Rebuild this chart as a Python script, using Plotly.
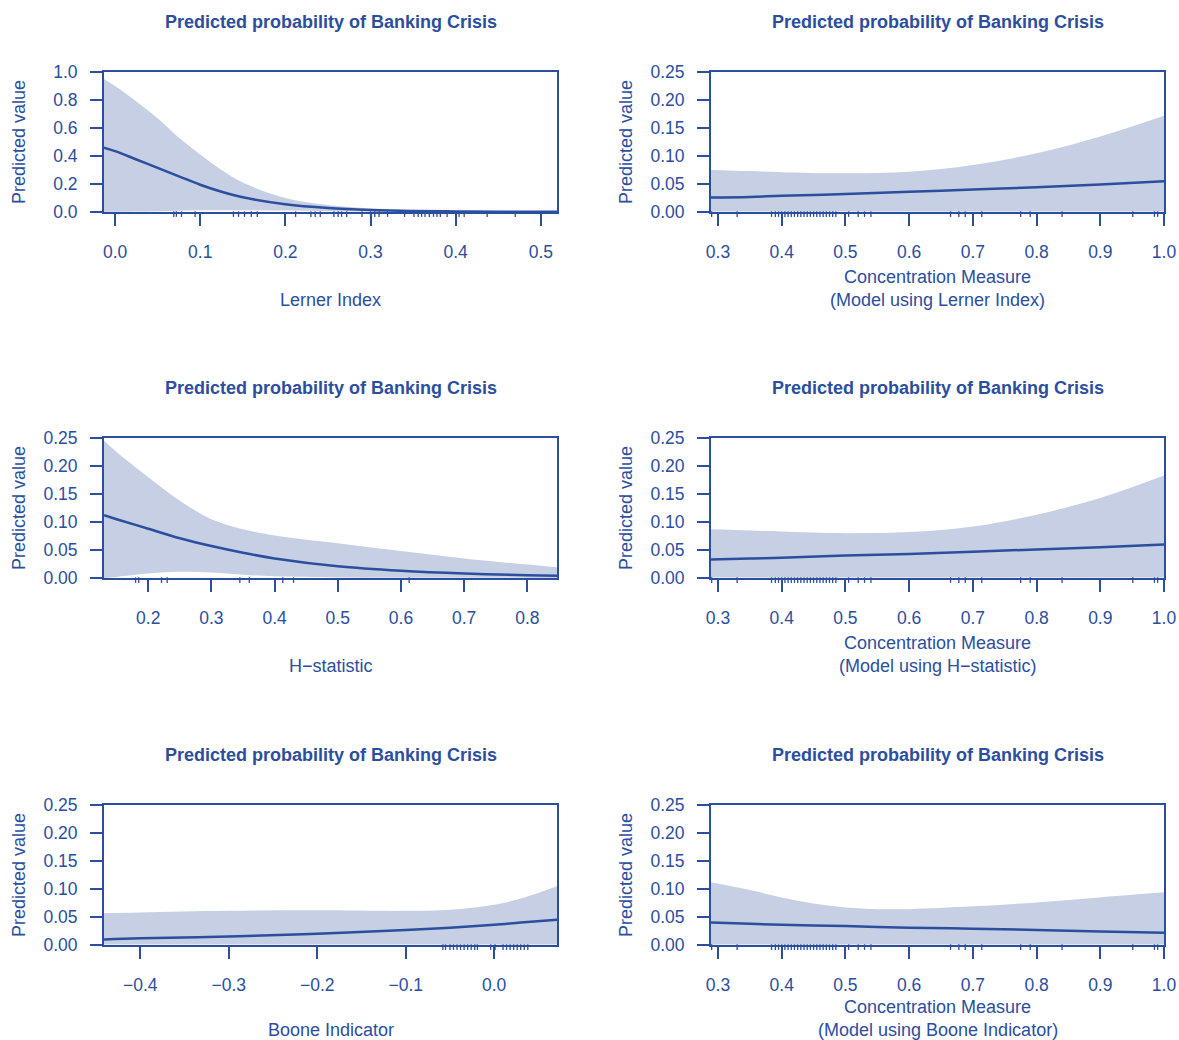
import plotly.graph_objects as go

# ---------------- data ----------------
# Panel 1: Lerner Index
lerner_x = [-0.013, 0.0, 0.025, 0.05, 0.075, 0.1, 0.125, 0.15, 0.2, 0.25, 0.3, 0.35, 0.4, 0.45, 0.519]
lerner_fit = [0.46, 0.435, 0.375, 0.315, 0.255, 0.195, 0.145, 0.105, 0.055, 0.028, 0.014, 0.007, 0.004, 0.002, 0.001]
lerner_hi = [0.95, 0.90, 0.79, 0.67, 0.53, 0.41, 0.30, 0.21, 0.10, 0.05, 0.025, 0.012, 0.006, 0.003, 0.001]
lerner_lo = [0.0, 0.001, 0.003, 0.006, 0.009, 0.012, 0.013, 0.013, 0.010, 0.006, 0.003, 0.0015, 0.0008, 0.0004, 0.0001]
lerner_rug = [0.069, 0.072, 0.078, 0.094, 0.139, 0.145, 0.152, 0.16, 0.167, 0.212, 0.23, 0.235, 0.241,
              0.257, 0.262, 0.266, 0.272, 0.29, 0.3, 0.305, 0.31, 0.32, 0.34, 0.351, 0.356, 0.36, 0.364,
              0.369, 0.374, 0.378, 0.382, 0.39, 0.4, 0.404, 0.41, 0.437, 0.47]

# Panel 2: Concentration (Lerner model)
conc_x = [0.289, 0.35, 0.4, 0.5, 0.6, 0.7, 0.8, 0.9, 1.0]
concL_fit = [0.026, 0.027, 0.029, 0.032, 0.036, 0.040, 0.044, 0.049, 0.055]
concL_hi = [0.075, 0.073, 0.071, 0.069, 0.072, 0.084, 0.105, 0.135, 0.172]
concL_lo = [0.001, 0.001, 0.001, 0.001, 0.001, 0.001, 0.001, 0.001, 0.001]

# Panel 3: H-statistic
h_x = [0.13, 0.15, 0.2, 0.25, 0.3, 0.35, 0.4, 0.5, 0.6, 0.7, 0.8, 0.847]
h_fit = [0.112, 0.105, 0.088, 0.071, 0.057, 0.045, 0.035, 0.021, 0.013, 0.008, 0.005, 0.004]
h_hi = [0.245, 0.225, 0.180, 0.138, 0.105, 0.087, 0.076, 0.062, 0.048, 0.035, 0.024, 0.019]
h_lo = [0.0, 0.002, 0.008, 0.011, 0.010, 0.006, 0.003, 0.001, 0.0005, 0.0003, 0.0002, 0.0001]
h_rug = [0.18, 0.185, 0.221, 0.23, 0.345, 0.36, 0.413, 0.43, 0.613]

# Panel 4: Concentration (H-statistic model)
concH_fit = [0.033, 0.035, 0.036, 0.040, 0.043, 0.047, 0.051, 0.055, 0.060]
concH_hi = [0.087, 0.085, 0.083, 0.080, 0.082, 0.092, 0.113, 0.143, 0.183]
concH_lo = [0.001, 0.001, 0.001, 0.001, 0.001, 0.001, 0.001, 0.001, 0.001]

# Panel 5: Boone Indicator
boone_x = [-0.441, -0.4, -0.3, -0.2, -0.1, -0.05, 0.0, 0.03, 0.071]
boone_fit = [0.010, 0.012, 0.015, 0.020, 0.027, 0.031, 0.036, 0.040, 0.045]
boone_hi = [0.057, 0.058, 0.061, 0.062, 0.061, 0.063, 0.072, 0.083, 0.105]
boone_lo = [0.001, 0.001, 0.001, 0.001, 0.001, 0.001, 0.001, 0.001, 0.001]
boone_rug = [-0.058, -0.055, -0.05, -0.046, -0.042, -0.038, -0.034, -0.03, -0.026, -0.022, -0.019,
             -0.004, 0.001, 0.01, 0.014, 0.018, 0.022, 0.026, 0.03, 0.034, 0.038]

# Panel 6: Concentration (Boone model)
concB_x = [0.289, 0.35, 0.4, 0.45, 0.5, 0.55, 0.6, 0.7, 0.8, 0.9, 1.0]
concB_fit = [0.040, 0.038, 0.036, 0.035, 0.034, 0.032, 0.031, 0.029, 0.027, 0.024, 0.022]
concB_hi = [0.112, 0.098, 0.085, 0.074, 0.067, 0.064, 0.064, 0.069, 0.076, 0.085, 0.094]
concB_lo = [0.001] * 11

conc_rug = [0.29, 0.33, 0.384, 0.39, 0.395, 0.4, 0.405, 0.41, 0.415, 0.42, 0.425, 0.43, 0.435, 0.44,
            0.445, 0.45, 0.455, 0.46, 0.465, 0.47, 0.475, 0.48, 0.485, 0.505, 0.52, 0.53, 0.54,
            0.665, 0.678, 0.688, 0.714, 0.775, 0.79, 0.84, 0.951, 0.985, 0.99]

title_text = "Predicted probability of Banking Crisis"
ylabel_text = "Predicted value"

y_ticks_1 = [0.0, 0.2, 0.4, 0.6, 0.8, 1.0]
y_ticks_q = [0.0, 0.05, 0.10, 0.15, 0.20, 0.25]
x_ticks_lerner = [0.0, 0.1, 0.2, 0.3, 0.4, 0.5]
x_ticks_conc = [0.3, 0.4, 0.5, 0.6, 0.7, 0.8, 0.9, 1.0]
x_ticks_h = [0.2, 0.3, 0.4, 0.5, 0.6, 0.7, 0.8]
x_ticks_boone = [-0.4, -0.3, -0.2, -0.1, 0.0]

# ---------------- styling ----------------
BLUE = "#2C4E9E"
BAND = "#C6CFE3"
FONT = "Liberation Sans, Arial, Helvetica, sans-serif"
W, H = 1179, 1040
TICK_SIZE = 17.5
LABEL_SIZE = 18
TITLE_SIZE = 18

def fx(p):
    return p / W

def fy(p):
    return 1 - p / H

cols = [(104, 557), (711, 1164)]
rows = [(72, 212), (438, 578), (805, 945)]

panels = [
    dict(x=lerner_x, fit=lerner_fit, hi=lerner_hi, lo=lerner_lo, rug=lerner_rug,
         xr=[-0.013, 0.519], yr=[0, 1], yt=y_ticks_1, yf=".1f", xt=x_ticks_lerner,
         xtitle=["Lerner Index"], r=0, c=0),
    dict(x=conc_x, fit=concL_fit, hi=concL_hi, lo=concL_lo, rug=conc_rug,
         xr=[0.289, 1.0], yr=[0, 0.25], yt=y_ticks_q, yf=".2f", xt=x_ticks_conc,
         xtitle=["Concentration Measure", "(Model using Lerner Index)"], r=0, c=1),
    dict(x=h_x, fit=h_fit, hi=h_hi, lo=h_lo, rug=h_rug,
         xr=[0.13, 0.847], yr=[0, 0.25], yt=y_ticks_q, yf=".2f", xt=x_ticks_h,
         xtitle=["H\u2212statistic"], r=1, c=0),
    dict(x=conc_x, fit=concH_fit, hi=concH_hi, lo=concH_lo, rug=conc_rug,
         xr=[0.289, 1.0], yr=[0, 0.25], yt=y_ticks_q, yf=".2f", xt=x_ticks_conc,
         xtitle=["Concentration Measure", "(Model using H\u2212statistic)"], r=1, c=1),
    dict(x=boone_x, fit=boone_fit, hi=boone_hi, lo=boone_lo, rug=boone_rug,
         xr=[-0.441, 0.071], yr=[0, 0.25], yt=y_ticks_q, yf=".2f", xt=x_ticks_boone,
         xtitle=["Boone Indicator"], r=2, c=0),
    dict(x=concB_x, fit=concB_fit, hi=concB_hi, lo=concB_lo, rug=conc_rug,
         xr=[0.289, 1.0], yr=[0, 0.25], yt=y_ticks_q, yf=".2f", xt=x_ticks_conc,
         xtitle=["Concentration Measure", "(Model using Boone Indicator)"], r=2, c=1),
]

fig = go.Figure()
layout = dict(width=W, height=H, margin=dict(l=0, r=0, t=0, b=0),
              paper_bgcolor="white", plot_bgcolor="white", showlegend=False,
              font=dict(family=FONT, color=BLUE))
shapes = []
annotations = []

for i, p in enumerate(panels, start=1):
    xa = "x" if i == 1 else f"x{i}"
    ya = "y" if i == 1 else f"y{i}"
    x0, x1 = cols[p["c"]]
    y0, y1 = rows[p["r"]]
    fig.add_trace(go.Scatter(x=p["x"], y=p["lo"], mode="lines", line=dict(width=0, shape="spline"),
                             xaxis=xa, yaxis=ya, hoverinfo="skip"))
    fig.add_trace(go.Scatter(x=p["x"], y=p["hi"], mode="lines", line=dict(width=0, shape="spline"),
                             fill="tonexty", fillcolor=BAND, xaxis=xa, yaxis=ya, hoverinfo="skip"))
    fig.add_trace(go.Scatter(x=p["x"], y=p["fit"], mode="lines",
                             line=dict(color=BLUE, width=2.5, shape="spline"), xaxis=xa, yaxis=ya))
    layout["xaxis" if i == 1 else f"xaxis{i}"] = dict(
        domain=[fx(x0), fx(x1)], range=p["xr"], anchor=ya, showgrid=False, zeroline=False,
        showline=True, mirror=True, linecolor=BLUE, linewidth=2,
        ticks="outside", ticklen=12, tickwidth=2, tickcolor=BLUE,
        tickvals=p["xt"], tickformat=".1f", ticklabelstandoff=11,
        tickfont=dict(size=TICK_SIZE, color=BLUE, family=FONT), automargin=False)
    layout["yaxis" if i == 1 else f"yaxis{i}"] = dict(
        domain=[fy(y1), fy(y0)], range=p["yr"], anchor=xa, showgrid=False, zeroline=False,
        showline=True, mirror=True, linecolor=BLUE, linewidth=2,
        ticks="outside", ticklen=12, tickwidth=2, tickcolor=BLUE,
        tickvals=p["yt"], tickformat=p["yf"], ticklabelstandoff=9,
        tickfont=dict(size=TICK_SIZE, color=BLUE, family=FONT), automargin=False)
    # rug marks
    for rv in p["rug"]:
        shapes.append(dict(type="line", xref=xa, yref=f"{ya} domain", x0=rv, x1=rv,
                           y0=-0.035, y1=0.005, line=dict(color=BLUE, width=1.3)))
    cx = fx((x0 + x1) / 2)
    annotations.append(dict(text=f"<b>{title_text}</b>", x=cx, y=fy(y0 - 50), xref="paper", yref="paper",
                            showarrow=False, xanchor="center", yanchor="middle",
                            font=dict(size=TITLE_SIZE, color=BLUE, family=FONT)))
    annotations.append(dict(text=ylabel_text, x=fx(x0 - 85), y=fy((y0 + y1) / 2), xref="paper",
                            yref="paper", showarrow=False, textangle=-90, xanchor="center",
                            yanchor="middle", font=dict(size=LABEL_SIZE, color=BLUE, family=FONT)))
    lift = 3 if p["r"] == 2 else 0
    if len(p["xtitle"]) == 1:
        annotations.append(dict(text=p["xtitle"][0], x=cx, y=fy(y1 + 88 - lift), xref="paper", yref="paper",
                                showarrow=False, xanchor="center", yanchor="middle",
                                font=dict(size=LABEL_SIZE, color=BLUE, family=FONT)))
    else:
        for k, t in enumerate(p["xtitle"]):
            annotations.append(dict(text=t, x=cx, y=fy(y1 + 65 + 23 * k - lift), xref="paper", yref="paper",
                                    showarrow=False, xanchor="center", yanchor="middle",
                                    font=dict(size=LABEL_SIZE, color=BLUE, family=FONT)))

layout["shapes"] = shapes
layout["annotations"] = annotations
fig.update_layout(**layout)
fig.write_html("out.html", config={"displayModeBar": False},
               post_script="document.body.style.margin='0';document.body.style.padding='0';")
